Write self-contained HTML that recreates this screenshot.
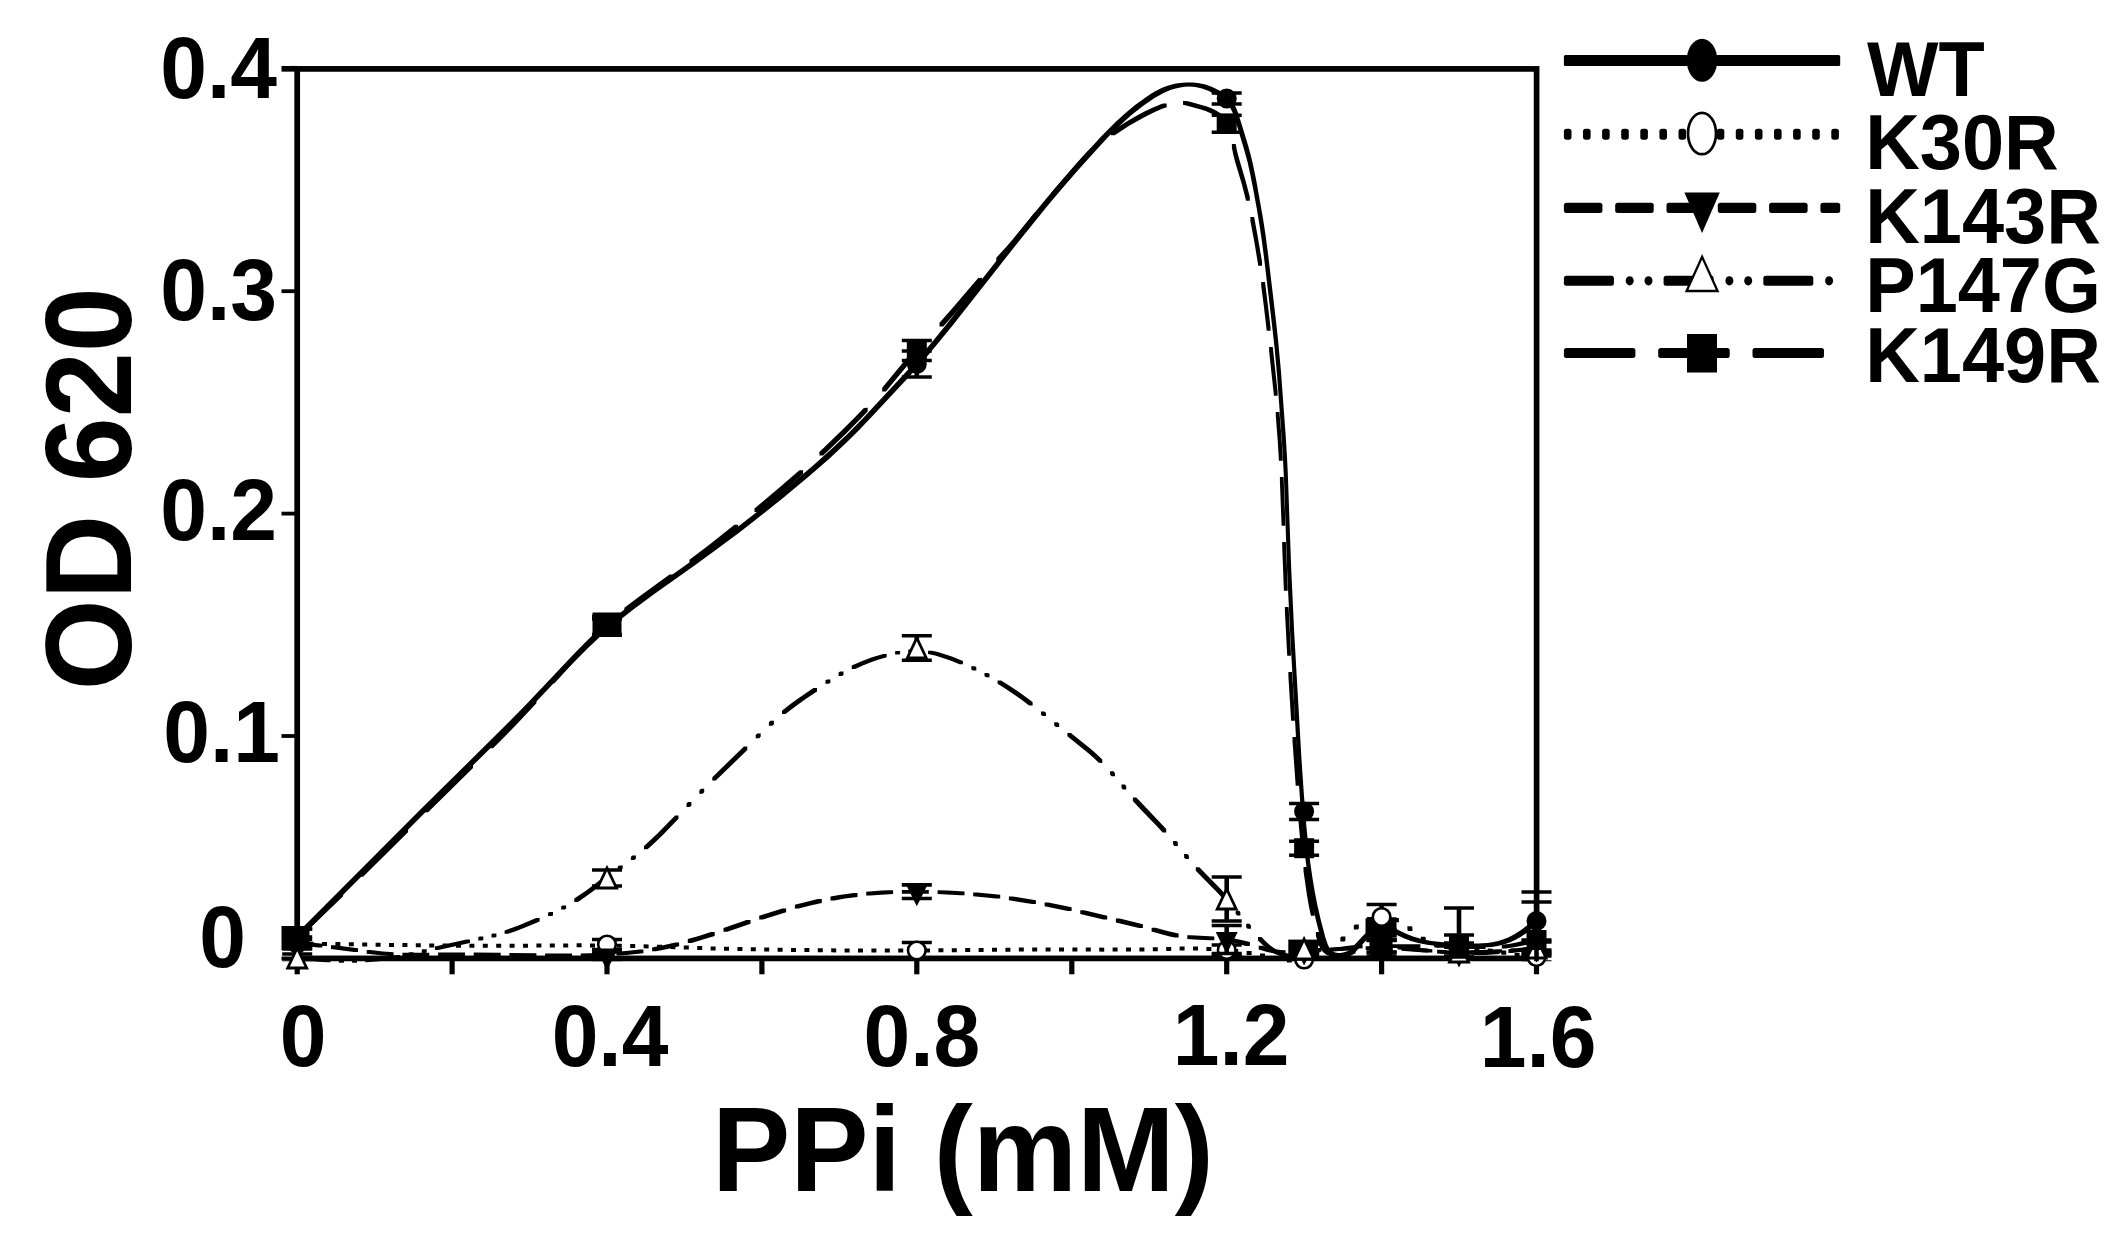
<!DOCTYPE html>
<html><head><meta charset="utf-8"><title>PPi OD 620</title>
<style>html,body{margin:0;padding:0;background:#fff}svg{display:block;filter:blur(0.7px)}text{font-family:"Liberation Sans",sans-serif;font-weight:bold;fill:#000}</style></head><body>
<svg width="2126" height="1238" viewBox="0 0 2126 1238">
<rect width="2126" height="1238" fill="#fff"/>
<g stroke="#000" fill="none">
<rect x="297.2" y="68.9" width="1239.4" height="889.5" stroke-width="5.7"/>
<line x1="281.5" y1="68.8" x2="297" y2="68.8" stroke-width="5.7"/>
<line x1="281.5" y1="291.2" x2="297" y2="291.2" stroke-width="3.8"/>
<line x1="281.5" y1="513.6" x2="297" y2="513.6" stroke-width="3.8"/>
<line x1="281.5" y1="736.0" x2="297" y2="736.0" stroke-width="3.8"/>
<line x1="281.5" y1="958.4" x2="297" y2="958.4" stroke-width="3.8"/>
<line x1="297.2" y1="958" x2="297.2" y2="974.3" stroke-width="5.2"/>
<line x1="452.1" y1="958" x2="452.1" y2="974.3" stroke-width="5.2"/>
<line x1="607.0" y1="958" x2="607.0" y2="974.3" stroke-width="5.2"/>
<line x1="761.9" y1="958" x2="761.9" y2="974.3" stroke-width="5.2"/>
<line x1="916.8" y1="958" x2="916.8" y2="974.3" stroke-width="5.2"/>
<line x1="1071.8" y1="958" x2="1071.8" y2="974.3" stroke-width="5.2"/>
<line x1="1226.7" y1="958" x2="1226.7" y2="974.3" stroke-width="5.2"/>
<line x1="1381.6" y1="958" x2="1381.6" y2="974.3" stroke-width="5.2"/>
<line x1="1536.5" y1="958" x2="1536.5" y2="974.3" stroke-width="5.2"/>
</g>
<clipPath id="pc"><rect x="270" y="60" width="1290" height="901.2"/></clipPath>
<g>
<path d="M295.2,939.0L299.2,939.0L299.4,938.8L426.7,811.1L507.8,731.0L530.0,708.3L560.5,676.0L573.5,662.4L588.0,648.0L600.8,636.1L609.0,629.0L616.5,622.7L634.0,609.1L654.3,594.1L695.6,564.7L716.4,549.6L738.7,533.0L757.6,518.3L782.4,498.4L809.1,476.2L829.5,458.4L845.5,443.6L858.0,431.3L871.1,417.6L909.8,375.9L926.2,357.4L939.1,342.1L952.8,325.2L1015.7,245.2L1045.5,208.3L1061.8,188.8L1077.7,170.5L1093.5,152.9L1108.2,137.1L1120.5,124.9L1131.2,115.3L1142.3,106.4L1148.7,101.9L1154.2,98.2L1162.6,93.4L1166.8,91.4L1171.1,89.7L1175.6,88.4L1180.2,87.4L1185.0,86.7L1188.9,86.5L1195.4,87.1L1202.0,88.5L1204.8,89.5L1208.8,91.1L1216.1,94.7L1221.6,98.0L1225.2,101.0L1228.2,104.5L1230.9,108.9L1233.2,114.1L1235.3,120.3L1244.1,149.5L1247.6,162.3L1250.3,174.5L1252.9,187.4L1256.8,208.8L1259.8,227.1L1261.7,239.8L1264.0,257.2L1271.9,324.1L1274.5,347.2L1277.0,374.5L1281.7,438.5L1282.9,457.3L1284.0,479.6L1287.2,572.6L1290.3,636.3L1297.1,757.0L1299.8,796.6L1302.3,828.8L1304.3,849.5L1306.3,866.1L1308.3,880.4L1310.6,894.7L1313.5,909.6L1316.6,922.9L1321.6,941.8L1323.7,947.9L1325.6,951.6L1327.3,953.9L1329.6,955.9L1331.2,956.8L1334.1,958.0L1337.3,958.5L1342.9,958.5L1345.9,958.1L1347.7,957.5L1350.2,956.2L1353.9,953.4L1357.3,950.0L1365.8,940.7L1369.4,937.3L1372.0,935.1L1374.6,933.2L1377.3,931.7L1379.9,930.6L1382.7,930.0L1386.1,930.7L1390.4,932.1L1404.4,938.5L1410.9,941.0L1418.4,943.1L1427.1,944.8L1433.4,945.6L1441.2,946.2L1466.8,947.4L1481.9,947.5L1491.4,946.9L1497.6,946.0L1503.8,944.4L1509.6,942.4L1515.6,939.7L1520.9,936.7L1525.7,933.4L1531.4,929.0L1538.5,923.0L1538.5,919.0L1534.6,919.0L1527.2,925.3L1521.1,930.0L1514.4,934.3L1508.8,937.2L1504.2,939.1L1498.3,941.0L1493.6,942.1L1487.5,943.0L1478.0,943.6L1469.1,943.4L1443.6,942.2L1435.8,941.5L1429.8,940.7L1421.4,939.0L1413.1,936.5L1406.7,933.9L1396.1,929.0L1391.0,927.1L1387.0,926.2L1380.3,926.0L1377.4,926.4L1374.4,927.3L1371.8,928.6L1368.2,931.0L1365.4,933.4L1362.3,936.4L1353.5,946.1L1350.1,949.4L1346.2,952.4L1343.4,953.7L1340.5,954.5L1339.7,954.4L1336.5,953.5L1333.6,952.1L1332.2,950.9L1330.3,948.9L1328.6,946.2L1327.6,944.1L1325.5,937.9L1320.8,920.1L1317.5,905.7L1314.9,892.5L1312.5,878.2L1310.3,863.0L1308.3,845.7L1306.4,826.7L1303.9,794.8L1301.5,759.5L1294.2,632.4L1291.2,568.7L1287.9,475.8L1286.8,453.4L1285.6,434.6L1280.9,370.6L1278.1,340.5L1275.5,316.8L1267.7,251.3L1265.2,232.8L1262.7,216.7L1255.9,178.6L1253.1,165.3L1250.9,155.8L1248.1,145.6L1238.7,114.8L1236.6,108.9L1233.8,103.2L1232.2,100.6L1230.4,98.4L1228.8,96.7L1226.7,95.0L1224.2,93.2L1220.4,91.0L1211.7,86.7L1205.5,84.5L1199.3,83.2L1193.0,82.6L1185.9,82.6L1182.6,82.7L1177.9,83.2L1174.7,83.8L1170.2,84.9L1166.9,85.9L1162.8,87.5L1155.6,91.1L1151.0,93.8L1145.9,97.2L1135.4,104.8L1125.5,112.9L1115.3,122.2L1102.1,135.5L1085.3,153.7L1066.7,174.7L1047.6,197.1L1031.9,216.1L1015.8,236.2L946.1,324.7L933.3,340.5L922.0,353.9L910.5,367.0L899.4,379.0L864.1,417.0L848.7,432.8L831.5,449.1L812.5,466.0L785.9,488.5L758.8,510.4L737.6,526.9L716.0,543.1L692.9,559.9L648.9,591.3L628.6,606.2L610.8,620.3L602.8,627.0L595.0,633.9L582.8,645.4L569.0,659.2L526.1,704.4L503.9,727.1L421.4,808.6L295.2,935.0Z" fill="#000"/>
<g stroke="#000" fill="none" clip-path="url(#pc)">
<line x1="297.2" y1="929.0" x2="297.2" y2="945.0" stroke-width="4.6"/><line x1="282.2" y1="929.0" x2="312.2" y2="929.0" stroke-width="3.6"/><line x1="282.2" y1="945.0" x2="312.2" y2="945.0" stroke-width="3.6"/>
<line x1="607.0" y1="619.0" x2="607.0" y2="635.0" stroke-width="4.6"/><line x1="592.0" y1="619.0" x2="622.0" y2="619.0" stroke-width="3.6"/><line x1="592.0" y1="635.0" x2="622.0" y2="635.0" stroke-width="3.6"/>
<line x1="916.8" y1="351.0" x2="916.8" y2="377.0" stroke-width="4.6"/><line x1="901.8" y1="351.0" x2="931.8" y2="351.0" stroke-width="3.6"/><line x1="901.8" y1="377.0" x2="931.8" y2="377.0" stroke-width="3.6"/>
<line x1="1226.7" y1="93.0" x2="1226.7" y2="104.0" stroke-width="4.6"/><line x1="1211.7" y1="93.0" x2="1241.7" y2="93.0" stroke-width="3.6"/><line x1="1211.7" y1="104.0" x2="1241.7" y2="104.0" stroke-width="3.6"/>
<line x1="1304.1" y1="803.5" x2="1304.1" y2="819.5" stroke-width="4.6"/><line x1="1289.1" y1="803.5" x2="1319.1" y2="803.5" stroke-width="3.6"/><line x1="1289.1" y1="819.5" x2="1319.1" y2="819.5" stroke-width="3.6"/>
<line x1="1381.6" y1="919.0" x2="1381.6" y2="936.0" stroke-width="4.6"/><line x1="1366.6" y1="919.0" x2="1396.6" y2="919.0" stroke-width="3.6"/><line x1="1366.6" y1="936.0" x2="1396.6" y2="936.0" stroke-width="3.6"/>
<line x1="1459.0" y1="908.0" x2="1459.0" y2="982.0" stroke-width="4.6"/><line x1="1444.0" y1="908.0" x2="1474.0" y2="908.0" stroke-width="3.6"/><line x1="1444.0" y1="982.0" x2="1474.0" y2="982.0" stroke-width="3.6"/>
<line x1="1536.5" y1="892.0" x2="1536.5" y2="950.0" stroke-width="4.6"/><line x1="1521.5" y1="892.0" x2="1551.5" y2="892.0" stroke-width="3.6"/><line x1="1521.5" y1="950.0" x2="1551.5" y2="950.0" stroke-width="3.6"/>
</g>
<rect x="1365.5" y="918.5" width="31.0" height="18.3" fill="#000"/>
<circle cx="297.2" cy="937.0" r="10" fill="#000"/>
<circle cx="607.0" cy="627.0" r="10" fill="#000"/>
<circle cx="916.8" cy="364.0" r="10" fill="#000"/>
<circle cx="1226.7" cy="98.5" r="10" fill="#000"/>
<circle cx="1304.1" cy="811.5" r="10" fill="#000"/>
<circle cx="1381.6" cy="927.5" r="10" fill="#000"/>
<circle cx="1459.0" cy="945.0" r="10" fill="#000"/>
<circle cx="1536.5" cy="921.0" r="10" fill="#000"/>
</g>
<g>
<path d="M295.2,945.5L300.2,945.5L300.2,941.5L295.2,941.5Z M308.6,945.7L313.6,945.7L313.6,941.7L308.6,941.7Z M322.0,945.9L327.0,945.9L327.0,941.9L322.0,941.9Z M335.4,946.1L340.4,946.1L340.4,942.1L335.4,942.1Z M348.8,946.3L353.8,946.3L353.8,942.3L348.8,942.3Z M362.2,946.5L367.2,946.5L367.2,942.5L362.2,942.5Z M375.6,946.7L380.6,946.7L380.6,942.7L375.6,942.7Z M389.0,946.9L394.0,946.9L394.0,942.9L389.0,942.9Z M402.4,947.1L407.4,947.1L407.4,943.1L402.4,943.1Z M415.8,947.2L420.8,947.3L420.8,943.3L415.8,943.2Z M429.2,947.4L434.2,947.4L434.2,943.4L429.2,943.4Z M442.6,947.6L447.6,947.6L447.6,943.6L442.6,943.6Z M456.0,947.7L461.0,947.7L461.0,943.7L456.0,943.7Z M469.4,947.8L474.4,947.8L474.4,943.8L469.4,943.8Z M482.8,947.8L487.8,947.8L487.8,943.8L482.8,943.8Z M496.2,947.8L501.2,947.8L501.2,943.8L496.2,943.8Z M509.6,947.8L514.6,947.7L514.6,943.7L509.6,943.8Z M523.0,947.7L528.0,947.7L528.0,943.7L523.0,943.7Z M536.4,947.6L541.4,947.6L541.4,943.6L536.4,943.6Z M549.8,947.5L554.8,947.5L554.8,943.5L549.8,943.5Z M563.2,947.4L568.2,947.4L568.2,943.4L563.2,943.4Z M576.6,947.3L581.6,947.3L581.6,943.3L576.6,943.3Z M590.0,947.4L595.0,947.4L595.0,943.4L590.0,943.4Z M603.4,947.5L608.4,947.5L608.4,943.5L603.4,943.5Z M616.8,947.7L621.8,947.7L621.8,943.7L616.8,943.7Z M630.2,948.0L635.2,948.0L635.2,944.0L630.2,944.0Z M643.6,948.3L648.6,948.4L648.6,944.4L643.6,944.3Z M657.0,948.7L662.0,948.8L662.0,944.8L657.0,944.7Z M670.4,949.1L675.4,949.2L675.4,945.2L670.4,945.1Z M683.8,949.6L688.8,949.6L688.8,945.6L683.8,945.6Z M697.2,950.0L702.2,950.0L702.2,946.0L697.2,946.0Z M710.6,950.4L715.6,950.4L715.6,946.4L710.6,946.4Z M724.0,950.7L729.0,950.7L729.0,946.7L724.0,946.7Z M737.4,951.0L742.4,951.0L742.4,947.0L737.4,947.0Z M750.8,951.3L755.8,951.3L755.8,947.3L750.8,947.3Z M764.2,951.5L769.2,951.5L769.2,947.5L764.2,947.5Z M777.6,951.7L782.6,951.7L782.6,947.7L777.6,947.7Z M791.0,951.9L796.0,951.9L796.0,947.9L791.0,947.9Z M804.4,952.1L809.4,952.1L809.4,948.1L804.4,948.1Z M817.8,952.2L822.8,952.2L822.8,948.2L817.8,948.2Z M831.2,952.3L836.2,952.4L836.2,948.4L831.2,948.3Z M844.6,952.4L849.6,952.4L849.6,948.4L844.6,948.4Z M858.0,952.5L863.0,952.5L863.0,948.5L858.0,948.5Z M871.4,952.6L876.4,952.6L876.4,948.6L871.4,948.6Z M884.8,952.6L889.8,952.6L889.8,948.6L884.8,948.6Z M898.2,952.6L903.2,952.6L903.2,948.6L898.2,948.6Z M911.6,952.5L916.6,952.5L916.6,948.5L911.6,948.5Z M925.0,952.4L930.0,952.4L930.0,948.4L925.0,948.4Z M938.4,952.3L943.4,952.3L943.4,948.3L938.4,948.3Z M951.8,952.2L956.8,952.2L956.8,948.2L951.8,948.2Z M965.2,952.1L970.2,952.1L970.2,948.1L965.2,948.1Z M978.6,951.9L983.6,951.9L983.6,947.9L978.6,947.9Z M992.0,951.8L997.0,951.8L997.0,947.8L992.0,947.8Z M1005.4,951.7L1010.4,951.7L1010.4,947.7L1005.4,947.7Z M1018.8,951.6L1023.8,951.6L1023.8,947.6L1018.8,947.6Z M1032.2,951.5L1037.2,951.5L1037.2,947.5L1032.2,947.5Z M1045.6,951.5L1050.6,951.5L1050.6,947.5L1045.6,947.5Z M1059.0,951.5L1064.0,951.5L1064.0,947.5L1059.0,947.5Z M1072.4,951.6L1077.4,951.6L1077.4,947.6L1072.4,947.6Z M1085.8,951.6L1090.8,951.6L1090.8,947.6L1085.8,947.6Z M1099.2,951.6L1104.2,951.7L1104.2,947.7L1099.2,947.6Z M1112.6,951.6L1117.6,951.6L1117.6,947.6L1112.6,947.6Z M1126.0,951.6L1131.0,951.6L1131.0,947.6L1126.0,947.6Z M1139.4,951.4L1144.4,951.4L1144.4,947.4L1139.4,947.4Z M1152.8,951.2L1157.8,951.2L1157.8,947.2L1152.8,947.2Z M1166.2,950.9L1171.2,950.9L1171.2,946.9L1166.2,946.9Z M1179.6,950.6L1184.6,950.6L1184.6,946.6L1179.6,946.6Z M1193.0,950.6L1198.0,950.6L1198.0,946.6L1193.0,946.6Z M1206.4,950.9L1211.4,950.9L1211.4,946.9L1206.4,946.9Z M1219.8,951.6L1224.8,951.7L1224.8,947.7L1219.8,947.6Z M1233.2,952.9L1238.2,953.1L1238.2,949.1L1233.2,948.9Z M1246.6,954.9L1247.6,955.0L1251.6,955.0L1251.6,951.0L1250.6,950.9L1246.6,950.9Z M1260.0,957.4L1261.0,957.6L1265.0,957.6L1265.0,953.6L1264.0,953.4L1260.0,953.4Z M1273.4,960.2L1274.4,960.4L1278.4,960.4L1278.4,956.4L1277.4,956.2L1273.4,956.2Z M1286.8,962.4L1291.8,962.5L1291.8,958.5L1286.8,958.4Z M1300.2,962.6L1305.2,962.5L1305.2,958.5L1300.2,958.6Z M1313.6,959.5L1317.6,959.5L1318.6,959.1L1318.6,955.1L1314.6,955.1L1313.6,955.5Z M1327.0,952.7L1331.0,952.7L1332.0,952.0L1332.0,948.0L1328.0,948.0L1327.0,948.7Z M1340.4,941.4L1344.4,941.4L1345.4,940.5L1345.4,936.5L1341.4,936.5L1340.4,937.4Z M1353.8,929.4L1357.8,929.4L1358.8,928.6L1358.8,924.6L1354.8,924.6L1353.8,925.4Z M1367.2,921.3L1371.2,921.3L1372.2,920.9L1372.2,916.9L1368.2,916.9L1367.2,917.3Z M1380.6,918.5L1385.6,918.6L1385.6,914.6L1380.6,914.5Z M1394.0,921.9L1395.0,922.3L1399.0,922.3L1399.0,918.3L1398.0,917.9L1394.0,917.9Z M1407.4,930.3L1408.4,931.0L1412.4,931.0L1412.4,927.0L1411.4,926.3L1407.4,926.3Z M1420.8,940.8L1421.8,941.5L1425.8,941.5L1425.8,937.5L1424.8,936.8L1420.8,936.8Z M1434.2,947.2L1435.1,947.5L1439.1,947.5L1439.1,943.4L1438.2,943.2L1434.2,943.2Z M1447.6,949.4L1452.6,949.5L1452.6,945.5L1447.6,945.4Z M1461.0,950.3L1466.0,950.3L1466.0,946.3L1461.0,946.3Z M1474.4,951.3L1479.4,951.4L1479.4,947.4L1474.4,947.3Z M1487.8,952.6L1492.8,952.8L1492.8,948.8L1487.8,948.6Z M1501.2,954.5L1502.2,954.7L1506.2,954.7L1506.2,950.7L1505.2,950.5L1501.2,950.5Z M1514.6,956.9L1515.6,957.1L1519.6,957.1L1519.6,953.1L1518.6,952.9L1514.6,952.9Z M1528.0,959.6L1529.0,959.8L1533.0,959.8L1533.0,955.8L1532.0,955.6L1528.0,955.6Z" fill="#000"/>
<g stroke="#000" fill="none" clip-path="url(#pc)">
<line x1="297.2" y1="939.5" x2="297.2" y2="947.5" stroke-width="4.6"/><line x1="282.2" y1="939.5" x2="312.2" y2="939.5" stroke-width="3.6"/><line x1="282.2" y1="947.5" x2="312.2" y2="947.5" stroke-width="3.6"/>
<line x1="607.0" y1="939.5" x2="607.0" y2="949.5" stroke-width="4.6"/><line x1="592.0" y1="939.5" x2="622.0" y2="939.5" stroke-width="3.6"/><line x1="592.0" y1="949.5" x2="622.0" y2="949.5" stroke-width="3.6"/>
<line x1="916.8" y1="942.5" x2="916.8" y2="958.5" stroke-width="4.6"/><line x1="901.8" y1="942.5" x2="931.8" y2="942.5" stroke-width="3.6"/><line x1="901.8" y1="958.5" x2="931.8" y2="958.5" stroke-width="3.6"/>
<line x1="1226.7" y1="945.0" x2="1226.7" y2="955.0" stroke-width="4.6"/><line x1="1211.7" y1="945.0" x2="1241.7" y2="945.0" stroke-width="3.6"/><line x1="1211.7" y1="955.0" x2="1241.7" y2="955.0" stroke-width="3.6"/>
<line x1="1304.1" y1="955.5" x2="1304.1" y2="963.5" stroke-width="4.6"/><line x1="1289.1" y1="955.5" x2="1319.1" y2="955.5" stroke-width="3.6"/><line x1="1289.1" y1="963.5" x2="1319.1" y2="963.5" stroke-width="3.6"/>
<line x1="1381.6" y1="904.5" x2="1381.6" y2="929.5" stroke-width="4.6"/><line x1="1366.6" y1="904.5" x2="1396.6" y2="904.5" stroke-width="3.6"/><line x1="1366.6" y1="929.5" x2="1396.6" y2="929.5" stroke-width="3.6"/>
<line x1="1459.0" y1="943.0" x2="1459.0" y2="953.0" stroke-width="4.6"/><line x1="1444.0" y1="943.0" x2="1474.0" y2="943.0" stroke-width="3.6"/><line x1="1444.0" y1="953.0" x2="1474.0" y2="953.0" stroke-width="3.6"/>
<line x1="1536.5" y1="952.0" x2="1536.5" y2="962.0" stroke-width="4.6"/><line x1="1521.5" y1="952.0" x2="1551.5" y2="952.0" stroke-width="3.6"/><line x1="1521.5" y1="962.0" x2="1551.5" y2="962.0" stroke-width="3.6"/>
</g>
<circle cx="297.2" cy="943.5" r="8.8" fill="#fff" stroke="#000" stroke-width="2.6"/>
<circle cx="607.0" cy="944.5" r="8.8" fill="#fff" stroke="#000" stroke-width="2.6"/>
<circle cx="916.8" cy="950.5" r="8.8" fill="#fff" stroke="#000" stroke-width="2.6"/>
<circle cx="1226.7" cy="950.0" r="8.8" fill="#fff" stroke="#000" stroke-width="2.6"/>
<circle cx="1304.1" cy="959.5" r="8.8" fill="#fff" stroke="#000" stroke-width="2.6"/>
<circle cx="1381.6" cy="917.0" r="8.8" fill="#fff" stroke="#000" stroke-width="2.6"/>
<circle cx="1459.0" cy="948.0" r="8.8" fill="#fff" stroke="#000" stroke-width="2.6"/>
<circle cx="1536.5" cy="957.0" r="8.8" fill="#fff" stroke="#000" stroke-width="2.6"/>
</g>
<g>
<path d="M295.3,944.9L318.5,947.5L322.3,947.5L322.3,943.7L299.1,941.1L295.3,941.1Z M331.0,949.0L354.1,952.1L358.0,952.1L358.0,948.3L334.8,945.2L331.0,945.2Z M366.7,953.8L383.3,955.5L389.8,956.0L393.6,956.0L393.6,952.2L383.0,951.4L370.5,950.0L366.7,950.0Z M402.4,956.5L429.3,956.6L429.3,952.8L402.4,952.7Z M438.1,956.4L465.0,956.3L465.0,952.5L438.1,952.6Z M473.7,956.3L500.7,956.6L500.7,952.8L473.7,952.5Z M509.4,956.8L536.4,957.1L536.4,953.3L509.4,953.0Z M545.1,957.3L572.1,957.4L572.1,953.6L545.1,953.5Z M580.8,957.3L593.0,957.1L607.8,956.5L607.8,952.7L580.8,953.5Z M616.5,955.6L620.3,955.6L626.5,955.1L643.4,953.2L643.4,949.4L639.6,949.4L628.5,950.7L616.5,951.8Z M652.1,951.2L655.9,951.2L657.4,950.9L667.5,948.9L679.1,946.2L679.1,942.4L675.3,942.4L663.2,945.2L652.1,947.4Z M687.8,942.9L691.6,942.9L702.9,939.6L714.7,935.9L714.7,932.1L710.9,932.1L698.8,935.9L687.8,939.1Z M723.5,931.7L727.3,931.7L750.5,923.8L750.5,920.0L746.6,920.0L723.5,927.9Z M759.2,919.5L763.0,919.5L786.1,912.2L786.1,908.4L782.3,908.4L759.2,915.7Z M794.9,908.6L798.7,908.6L810.3,905.6L821.8,902.9L821.8,899.1L817.9,899.1L806.0,901.9L794.9,904.8Z M830.5,900.4L834.3,900.4L845.0,898.6L857.5,896.9L857.5,893.1L853.7,893.1L850.1,893.6L839.3,895.1L830.5,896.6Z M866.2,895.6L870.0,895.6L881.4,894.7L893.1,894.0L893.1,890.2L889.3,890.2L881.8,890.6L866.2,891.8Z M901.9,893.7L928.8,893.7L928.8,889.9L901.9,889.9Z M937.6,894.1L960.7,895.3L964.5,895.3L964.5,891.5L947.5,890.6L937.6,890.3Z M973.2,896.3L996.3,898.6L1000.2,898.6L1000.2,894.8L980.0,892.7L977.0,892.5L973.2,892.5Z M1008.9,900.3L1032.1,904.0L1035.9,904.0L1035.9,900.2L1012.7,896.5L1008.9,896.5Z M1044.6,906.3L1067.8,911.1L1071.6,911.1L1071.6,907.3L1048.4,902.5L1044.6,902.5Z M1080.3,914.0L1103.4,919.5L1107.2,919.5L1107.2,915.7L1084.1,910.2L1080.3,910.2Z M1115.9,922.4L1139.1,928.0L1142.9,928.0L1142.9,924.2L1119.7,918.6L1115.9,918.6Z M1151.6,931.6L1161.4,934.3L1169.8,936.4L1174.8,937.4L1178.6,937.4L1178.6,933.6L1168.4,931.3L1155.4,927.8L1151.6,927.8Z M1187.3,939.0L1198.5,939.7L1210.5,940.2L1214.3,940.2L1214.3,936.4L1191.1,935.2L1187.3,935.2Z M1223.0,941.2L1228.5,942.0L1234.3,943.0L1246.1,945.9L1249.9,945.9L1249.9,942.1L1241.4,939.9L1233.9,938.4L1226.8,937.4L1223.0,937.4Z M1258.7,949.6L1267.1,952.0L1273.3,953.3L1279.0,954.0L1285.6,954.1L1285.6,950.3L1280.3,949.9L1275.4,949.2L1269.7,947.9L1262.5,945.8L1258.7,945.8Z M1294.4,953.5L1298.2,953.5L1309.6,952.5L1321.4,951.8L1321.4,948.0L1317.5,948.0L1310.8,948.4L1294.4,949.7Z M1330.0,951.2L1333.8,951.2L1357.0,950.3L1357.0,946.5L1353.2,946.5L1330.0,947.4Z M1365.7,950.0L1377.6,949.9L1392.7,950.1L1392.7,946.3L1381.4,946.1L1365.7,946.2Z M1401.4,950.7L1424.5,952.5L1428.4,952.5L1428.4,948.7L1409.1,947.1L1401.4,946.9Z M1437.1,953.6L1452.8,954.7L1464.1,955.0L1464.1,951.2L1453.3,950.7L1440.9,949.8L1437.1,949.8Z M1472.8,955.1L1485.9,954.9L1499.7,954.1L1499.7,950.3L1495.9,950.3L1483.8,951.0L1472.8,951.3Z M1508.4,953.0L1512.2,953.0L1535.4,950.3L1535.4,946.5L1531.6,946.5L1508.4,949.2Z" fill="#000"/>
<g stroke="#000" fill="none" clip-path="url(#pc)">
<line x1="297.2" y1="937.0" x2="297.2" y2="949.0" stroke-width="4.6"/><line x1="282.2" y1="937.0" x2="312.2" y2="937.0" stroke-width="3.6"/><line x1="282.2" y1="949.0" x2="312.2" y2="949.0" stroke-width="3.6"/>
<line x1="607.0" y1="952.0" x2="607.0" y2="960.0" stroke-width="4.6"/><line x1="592.0" y1="952.0" x2="622.0" y2="952.0" stroke-width="3.6"/><line x1="592.0" y1="960.0" x2="622.0" y2="960.0" stroke-width="3.6"/>
<line x1="916.8" y1="884.9" x2="916.8" y2="898.5" stroke-width="4.6"/><line x1="901.8" y1="884.9" x2="931.8" y2="884.9" stroke-width="3.6"/><line x1="901.8" y1="898.5" x2="931.8" y2="898.5" stroke-width="3.6"/>
<line x1="1226.7" y1="925.5" x2="1226.7" y2="953.5" stroke-width="4.6"/><line x1="1211.7" y1="925.5" x2="1241.7" y2="925.5" stroke-width="3.6"/><line x1="1211.7" y1="953.5" x2="1241.7" y2="953.5" stroke-width="3.6"/>
<line x1="1304.1" y1="943.0" x2="1304.1" y2="959.0" stroke-width="4.6"/><line x1="1289.1" y1="943.0" x2="1319.1" y2="943.0" stroke-width="3.6"/><line x1="1289.1" y1="959.0" x2="1319.1" y2="959.0" stroke-width="3.6"/>
<line x1="1381.6" y1="940.0" x2="1381.6" y2="956.0" stroke-width="4.6"/><line x1="1366.6" y1="940.0" x2="1396.6" y2="940.0" stroke-width="3.6"/><line x1="1366.6" y1="956.0" x2="1396.6" y2="956.0" stroke-width="3.6"/>
<line x1="1459.0" y1="947.0" x2="1459.0" y2="959.0" stroke-width="4.6"/><line x1="1444.0" y1="947.0" x2="1474.0" y2="947.0" stroke-width="3.6"/><line x1="1444.0" y1="959.0" x2="1474.0" y2="959.0" stroke-width="3.6"/>
<line x1="1536.5" y1="940.0" x2="1536.5" y2="956.0" stroke-width="4.6"/><line x1="1521.5" y1="940.0" x2="1551.5" y2="940.0" stroke-width="3.6"/><line x1="1521.5" y1="956.0" x2="1551.5" y2="956.0" stroke-width="3.6"/>
</g>
<rect x="1288.3" y="939.6" width="29.8" height="16.7" fill="#000"/>
<path d="M286.2,935.5 L308.2,935.5 L297.2,957.5 Z" fill="#000"/>
<path d="M596.0,948.5 L618.0,948.5 L607.0,970.5 Z" fill="#000"/>
<path d="M905.8,884.2 L927.8,884.2 L916.8,906.2 Z" fill="#000"/>
<path d="M1215.7,932.0 L1237.7,932.0 L1226.7,954.0 Z" fill="#000"/>
<path d="M1293.1,943.5 L1315.1,943.5 L1304.1,965.5 Z" fill="#000"/>
<path d="M1370.6,940.5 L1392.6,940.5 L1381.6,962.5 Z" fill="#000"/>
<path d="M1448.0,945.5 L1470.0,945.5 L1459.0,967.5 Z" fill="#000"/>
<path d="M1525.5,940.5 L1547.5,940.5 L1536.5,962.5 Z" fill="#000"/>
</g>
<g>
<path d="M295.5,959.7L318.8,961.7L327.1,962.2L330.5,962.2L330.5,958.8L318.2,958.0L298.9,956.3L295.5,956.3Z M338.9,962.7L343.9,962.7L343.9,959.3L338.9,959.3Z M352.1,962.7L357.0,962.7L357.0,959.3L352.1,959.3Z M365.2,962.2L369.8,962.1L381.4,961.1L390.3,959.9L400.2,958.3L400.2,954.9L396.8,954.9L380.9,957.3L365.2,958.8Z M408.6,955.9L412.0,955.9L413.6,955.6L413.6,952.2L410.2,952.2L408.6,952.5Z M421.8,952.9L425.2,952.9L426.7,952.6L426.7,949.2L423.3,949.2L421.8,949.5Z M434.9,949.9L438.3,949.9L469.9,942.9L469.9,939.5L466.4,939.5L434.9,946.5Z M478.3,940.4L481.7,940.4L483.3,940.0L483.3,936.6L479.9,936.6L478.3,937.0Z M491.5,937.4L494.9,937.4L496.4,937.0L496.4,933.6L493.0,933.6L491.5,934.0Z M504.6,933.8L508.0,933.8L515.0,931.4L526.4,927.1L539.6,921.5L539.6,918.1L536.1,918.1L519.0,925.3L511.5,928.1L504.6,930.4Z M548.0,916.1L551.4,916.1L553.0,915.4L553.0,912.0L549.6,912.0L548.0,912.7Z M561.2,909.6L564.6,909.6L566.1,908.8L566.1,905.4L562.7,905.4L561.2,906.2Z M574.3,902.0L577.7,902.0L580.2,900.4L591.4,892.5L609.3,878.9L609.3,875.5L605.8,875.5L586.3,890.4L574.3,898.6Z M617.7,870.0L621.1,870.0L622.7,868.8L622.7,865.4L619.3,865.4L617.7,866.6Z M630.9,860.1L634.3,860.1L635.9,858.8L635.9,855.4L632.5,855.4L630.9,856.7Z M644.0,849.3L647.4,849.3L649.6,847.4L656.1,841.5L662.8,834.9L678.5,818.8L678.5,815.4L675.1,815.4L657.5,833.4L650.5,840.1L644.0,845.9Z M686.5,806.9L689.9,806.9L691.4,805.4L691.4,802.0L688.0,802.0L686.5,803.5Z M699.3,793.8L702.7,793.8L704.2,792.2L704.2,788.8L700.8,788.8L699.3,790.4Z M712.3,780.6L715.8,780.6L747.3,750.0L747.3,746.5L743.9,746.5L712.3,777.2Z M755.7,738.3L759.1,738.3L760.7,736.8L760.7,733.4L757.3,733.4L755.7,734.9Z M768.9,725.7L772.3,725.7L773.9,724.2L773.9,720.8L770.5,720.8L768.9,722.3Z M782.0,714.1L785.5,714.1L791.7,709.2L799.4,703.4L807.5,697.7L817.0,691.4L817.0,688.0L813.4,688.1L796.3,699.7L788.8,705.3L782.0,710.7Z M825.4,683.8L828.8,683.8L830.4,682.8L830.4,679.4L827.0,679.4L825.4,680.4Z M838.6,675.9L842.0,675.9L843.5,675.0L843.5,671.6L840.1,671.6L838.6,672.5Z M851.7,669.0L855.1,669.0L862.8,665.5L870.9,662.3L878.8,659.6L886.7,657.3L886.7,653.9L883.3,653.9L872.1,657.3L861.6,661.2L851.7,665.6Z M895.1,654.6L898.5,654.6L900.1,654.3L900.1,650.9L896.7,650.9L895.1,651.2Z M908.3,652.8L913.3,652.8L913.3,649.4L908.3,649.4Z M916.2,652.7L919.8,652.7L919.8,649.3L916.2,649.3Z M928.0,654.1L935.1,655.6L942.8,657.9L951.1,660.8L959.5,664.2L962.9,664.3L962.9,660.9L951.8,656.4L942.5,653.4L936.9,651.8L931.9,650.8L928.0,650.7Z M971.3,669.6L972.9,670.4L976.3,670.4L976.3,667.0L974.7,666.2L971.3,666.2Z M984.5,676.3L986.1,677.2L989.5,677.2L989.5,673.8L987.9,672.9L984.5,672.9Z M997.6,683.8L1005.5,688.8L1013.7,694.2L1021.6,699.8L1029.1,705.4L1032.6,705.5L1032.6,702.1L1018.9,692.0L1010.6,686.4L1003.5,682.0L1001.0,680.4L997.6,680.4Z M1041.0,714.9L1042.6,716.1L1046.0,716.1L1046.0,712.7L1044.4,711.5L1041.0,711.5Z M1054.2,725.6L1055.8,726.9L1059.2,726.9L1059.2,723.5L1057.6,722.2L1054.2,722.2Z M1067.4,736.3L1086.9,752.0L1093.6,757.8L1098.8,762.8L1102.3,762.9L1102.3,759.5L1096.5,753.9L1090.2,748.5L1070.9,733.0L1067.4,732.9Z M1110.1,774.7L1111.5,776.3L1114.9,776.3L1114.9,772.9L1113.5,771.3L1110.1,771.3Z M1121.5,787.9L1122.8,789.4L1126.2,789.4L1126.2,786.0L1124.9,784.5L1121.5,784.5Z M1132.9,801.0L1140.7,809.4L1156.2,825.4L1162.7,832.5L1166.2,832.5L1166.2,829.1L1136.4,797.6L1132.9,797.6Z M1173.1,844.4L1174.4,846.0L1177.8,846.0L1177.8,842.5L1176.5,841.0L1173.1,841.0Z M1184.1,857.5L1185.5,859.1L1188.9,859.1L1188.9,855.7L1187.5,854.1L1184.1,854.1Z M1195.8,870.7L1217.2,892.4L1226.2,902.2L1229.6,902.2L1229.6,898.8L1220.7,889.0L1199.3,867.3L1195.8,867.3Z M1235.7,914.1L1237.0,915.6L1240.4,915.6L1240.4,912.2L1239.1,910.7L1235.7,910.7Z M1246.2,927.2L1247.5,928.8L1250.9,928.8L1250.9,925.4L1249.6,923.8L1246.2,923.8Z M1258.0,940.4L1262.7,945.1L1266.9,948.8L1270.6,951.6L1274.5,953.8L1278.8,955.6L1283.0,956.6L1286.9,957.1L1292.9,957.2L1292.9,953.8L1289.3,953.7L1285.4,953.0L1281.7,952.0L1278.1,950.5L1274.6,948.6L1270.7,945.7L1266.3,941.9L1261.4,937.0L1258.0,937.0Z M1301.4,955.7L1304.8,955.7L1306.3,955.4L1306.3,952.0L1302.9,952.0L1301.4,952.3Z M1314.5,953.6L1317.9,953.6L1319.4,953.4L1319.4,950.0L1316.0,950.0L1314.5,950.2Z M1327.7,951.8L1331.1,951.8L1349.1,949.5L1362.6,948.2L1362.6,944.8L1359.2,944.8L1350.5,945.5L1327.7,948.4Z M1371.0,947.6L1376.0,947.6L1376.0,944.2L1371.0,944.2Z M1384.2,947.9L1389.1,948.0L1389.1,944.6L1384.2,944.5Z M1397.4,949.2L1420.3,951.9L1428.9,952.6L1432.3,952.6L1432.3,949.2L1419.8,948.1L1400.8,945.8L1397.4,945.8Z M1440.8,953.3L1445.7,953.4L1445.7,950.0L1440.8,949.9Z M1453.9,953.7L1458.8,953.7L1458.8,950.3L1453.9,950.3Z M1467.0,953.7L1484.8,953.5L1502.0,952.7L1502.0,949.3L1498.5,949.3L1481.4,950.1L1467.0,950.3Z M1510.4,951.9L1515.4,951.7L1515.4,948.3L1510.4,948.5Z M1523.6,950.7L1528.5,950.6L1528.5,947.2L1523.6,947.3Z" fill="#000"/>
<g stroke="#000" fill="none" clip-path="url(#pc)">
<line x1="297.2" y1="954.0" x2="297.2" y2="962.0" stroke-width="4.6"/><line x1="282.2" y1="954.0" x2="312.2" y2="954.0" stroke-width="3.6"/><line x1="282.2" y1="962.0" x2="312.2" y2="962.0" stroke-width="3.6"/>
<line x1="607.0" y1="870.0" x2="607.0" y2="886.0" stroke-width="4.6"/><line x1="592.0" y1="870.0" x2="622.0" y2="870.0" stroke-width="3.6"/><line x1="592.0" y1="886.0" x2="622.0" y2="886.0" stroke-width="3.6"/>
<line x1="916.8" y1="635.7" x2="916.8" y2="660.3" stroke-width="4.6"/><line x1="901.8" y1="635.7" x2="931.8" y2="635.7" stroke-width="3.6"/><line x1="901.8" y1="660.3" x2="931.8" y2="660.3" stroke-width="3.6"/>
<line x1="1226.7" y1="877.0" x2="1226.7" y2="921.0" stroke-width="4.6"/><line x1="1211.7" y1="877.0" x2="1241.7" y2="877.0" stroke-width="3.6"/><line x1="1211.7" y1="921.0" x2="1241.7" y2="921.0" stroke-width="3.6"/>
<line x1="1304.1" y1="944.0" x2="1304.1" y2="954.0" stroke-width="4.6"/><line x1="1289.1" y1="944.0" x2="1319.1" y2="944.0" stroke-width="3.6"/><line x1="1289.1" y1="954.0" x2="1319.1" y2="954.0" stroke-width="3.6"/>
<line x1="1381.6" y1="940.0" x2="1381.6" y2="952.0" stroke-width="4.6"/><line x1="1366.6" y1="940.0" x2="1396.6" y2="940.0" stroke-width="3.6"/><line x1="1366.6" y1="952.0" x2="1396.6" y2="952.0" stroke-width="3.6"/>
<line x1="1459.0" y1="947.0" x2="1459.0" y2="957.0" stroke-width="4.6"/><line x1="1444.0" y1="947.0" x2="1474.0" y2="947.0" stroke-width="3.6"/><line x1="1444.0" y1="957.0" x2="1474.0" y2="957.0" stroke-width="3.6"/>
<line x1="1536.5" y1="942.0" x2="1536.5" y2="954.0" stroke-width="4.6"/><line x1="1521.5" y1="942.0" x2="1551.5" y2="942.0" stroke-width="3.6"/><line x1="1521.5" y1="954.0" x2="1551.5" y2="954.0" stroke-width="3.6"/>
</g>
<path d="M287.7,968.0 L306.7,968.0 L297.2,948.0 Z" fill="#fff" stroke="#000" stroke-width="2.8" stroke-linejoin="miter"/>
<path d="M597.5,888.0 L616.5,888.0 L607.0,868.0 Z" fill="#fff" stroke="#000" stroke-width="2.8" stroke-linejoin="miter"/>
<path d="M907.3,658.0 L926.3,658.0 L916.8,638.0 Z" fill="#fff" stroke="#000" stroke-width="2.8" stroke-linejoin="miter"/>
<path d="M1217.2,909.0 L1236.2,909.0 L1226.7,889.0 Z" fill="#fff" stroke="#000" stroke-width="2.8" stroke-linejoin="miter"/>
<path d="M1294.6,959.0 L1313.6,959.0 L1304.1,939.0 Z" fill="#fff" stroke="#000" stroke-width="2.8" stroke-linejoin="miter"/>
<path d="M1372.1,956.0 L1391.1,956.0 L1381.6,936.0 Z" fill="#fff" stroke="#000" stroke-width="2.8" stroke-linejoin="miter"/>
<path d="M1449.5,962.0 L1468.5,962.0 L1459.0,942.0 Z" fill="#fff" stroke="#000" stroke-width="2.8" stroke-linejoin="miter"/>
<path d="M1527.0,958.0 L1546.0,958.0 L1536.5,938.0 Z" fill="#fff" stroke="#000" stroke-width="2.8" stroke-linejoin="miter"/>
</g>
<g>
<path d="M295.3,938.9L299.1,938.8L343.1,896.3L343.1,892.6L339.2,892.7L295.3,935.1Z M359.4,876.7L363.1,876.7L408.0,832.2L408.0,828.5L404.3,828.5L359.4,873.0Z M424.4,812.2L428.1,812.2L473.0,768.0L473.0,764.2L469.3,764.2L424.4,808.5Z M489.4,748.2L493.1,748.2L493.3,748.0L516.5,724.6L536.4,703.3L536.4,699.6L532.7,699.6L512.8,720.8L489.4,744.5Z M550.7,683.3L554.5,683.2L567.4,668.9L578.4,657.0L588.1,646.9L596.8,638.5L596.8,634.7L593.1,634.7L590.2,637.5L581.3,646.4L572.8,655.3L550.7,679.6Z M624.4,611.5L628.2,611.4L644.8,598.8L673.1,578.3L673.1,574.6L669.4,574.6L669.2,574.7L640.0,595.9L624.4,607.8Z M689.5,563.5L693.3,563.4L714.8,546.9L738.1,528.4L738.1,524.7L734.4,524.7L710.9,543.4L689.5,559.8Z M754.5,512.1L758.3,512.1L783.0,491.4L803.1,473.9L803.1,470.2L799.4,470.2L778.3,488.6L754.5,508.4Z M819.4,455.6L823.1,455.6L823.5,455.3L834.7,444.6L847.2,432.5L867.7,411.5L867.7,407.8L863.9,407.9L854.2,418.0L842.4,429.8L819.4,451.9Z M882.2,391.5L885.9,391.4L911.1,361.0L917.3,353.9L924.0,346.5L924.0,342.8L920.3,342.8L918.6,344.7L907.2,357.5L882.2,387.8Z M939.5,326.5L943.2,326.5L943.7,326.0L955.8,312.4L981.9,281.5L981.9,277.8L978.2,277.9L951.7,309.1L939.5,322.8Z M996.3,261.5L1000.1,261.5L1010.5,250.0L1017.1,242.3L1038.1,216.6L1038.1,212.8L1034.4,212.8L1013.7,238.2L1006.6,246.4L996.3,257.8Z M1051.2,196.5L1055.0,196.4L1083.8,163.0L1089.7,156.6L1094.7,151.6L1094.7,147.9L1091.0,147.9L1086.9,151.9L1078.1,161.5L1051.2,192.8Z M1111.0,135.3L1114.7,135.3L1128.8,126.1L1136.7,121.4L1143.4,117.7L1150.2,114.2L1155.9,111.5L1161.6,109.1L1166.7,107.3L1166.7,103.6L1163.0,103.6L1160.9,104.3L1153.6,107.2L1145.4,111.0L1137.0,115.4L1127.9,120.7L1119.5,125.9L1111.0,131.6Z M1183.0,104.8L1188.1,105.9L1201.8,109.8L1206.3,111.3L1210.6,113.2L1213.2,114.6L1215.8,116.3L1219.5,119.4L1221.6,121.5L1223.5,123.9L1226.0,127.8L1229.7,127.8L1229.7,124.1L1228.3,121.7L1226.4,119.1L1223.0,115.4L1220.8,113.6L1218.5,111.9L1214.1,109.4L1210.8,108.0L1206.8,106.5L1191.8,102.3L1186.7,101.1L1183.0,101.1Z M1231.9,147.9L1233.4,155.0L1234.7,160.4L1242.0,184.8L1246.0,200.6L1246.1,200.8L1249.8,200.8L1249.8,197.0L1245.7,181.2L1238.5,156.7L1237.1,151.3L1235.7,144.3L1235.6,144.1L1231.9,144.1Z M1250.4,220.9L1254.4,242.3L1258.3,265.8L1262.0,265.8L1262.0,261.8L1258.1,238.7L1254.2,217.3L1254.1,217.1L1250.4,217.1Z M1261.2,286.0L1263.8,305.7L1266.7,330.6L1266.8,330.8L1270.5,330.8L1270.5,326.9L1267.5,302.0L1265.0,282.3L1264.9,282.1L1261.2,282.1Z M1269.1,351.0L1273.9,395.6L1273.9,395.8L1277.6,395.8L1277.6,391.9L1272.8,347.3L1272.8,347.1L1269.1,347.1Z M1275.8,416.0L1277.7,440.2L1278.9,460.5L1279.0,460.8L1282.7,460.8L1282.7,456.8L1281.4,436.5L1279.5,412.4L1279.5,412.1L1275.8,412.1Z M1279.9,481.4L1281.6,525.8L1285.3,525.8L1285.3,521.6L1283.6,477.1L1279.9,477.1Z M1282.2,546.5L1283.9,590.6L1284.0,590.8L1287.7,590.8L1287.7,586.9L1285.9,542.1L1282.2,542.1Z M1284.9,611.3L1287.2,655.4L1287.2,655.8L1290.9,655.8L1290.9,651.8L1288.6,607.1L1284.9,607.1Z M1288.4,676.2L1291.1,720.5L1291.2,720.8L1294.9,720.8L1294.9,716.9L1292.1,672.1L1288.4,672.1Z M1292.5,741.2L1295.7,785.6L1295.7,785.8L1299.4,785.8L1299.4,782.0L1296.2,737.1L1292.5,737.1Z M1297.2,806.1L1299.2,829.6L1301.2,850.8L1304.9,850.8L1304.9,846.8L1302.9,825.9L1300.9,802.1L1297.2,802.1Z M1303.5,871.0L1306.9,894.7L1308.8,905.7L1310.9,915.8L1314.6,915.8L1314.6,911.9L1312.6,902.1L1310.6,891.1L1307.2,867.1L1303.5,867.1Z M1315.9,935.9L1318.1,943.1L1319.3,946.3L1320.6,948.7L1322.2,951.1L1323.3,952.3L1325.3,954.0L1326.9,954.9L1329.8,956.0L1332.9,956.7L1336.2,956.9L1341.5,956.9L1344.6,956.6L1347.7,956.0L1355.5,953.6L1355.5,949.9L1351.8,949.9L1344.0,952.2L1340.9,952.9L1338.3,953.1L1333.6,952.3L1330.7,951.2L1329.1,950.3L1327.1,948.7L1326.0,947.4L1324.3,945.0L1323.1,942.6L1321.8,939.5L1319.6,932.1L1315.9,932.1Z M1371.8,949.0L1375.5,949.0L1383.9,948.3L1393.3,947.9L1420.4,947.9L1420.4,944.2L1389.6,944.2L1380.2,944.6L1371.8,945.3Z M1436.8,947.7L1454.7,947.8L1478.0,949.0L1485.5,949.1L1485.5,945.4L1458.4,944.1L1436.8,944.0Z M1501.8,948.5L1505.5,948.5L1515.6,947.0L1525.6,945.0L1538.3,941.9L1538.3,938.1L1534.6,938.1L1515.3,942.7L1508.8,943.9L1501.8,944.8Z" fill="#000"/>
<g stroke="#000" fill="none" clip-path="url(#pc)">
<line x1="297.2" y1="929.0" x2="297.2" y2="945.0" stroke-width="4.6"/><line x1="282.2" y1="929.0" x2="312.2" y2="929.0" stroke-width="3.6"/><line x1="282.2" y1="945.0" x2="312.2" y2="945.0" stroke-width="3.6"/>
<line x1="607.0" y1="616.5" x2="607.0" y2="634.5" stroke-width="4.6"/><line x1="592.0" y1="616.5" x2="622.0" y2="616.5" stroke-width="3.6"/><line x1="592.0" y1="634.5" x2="622.0" y2="634.5" stroke-width="3.6"/>
<line x1="916.8" y1="340.5" x2="916.8" y2="360.5" stroke-width="4.6"/><line x1="901.8" y1="340.5" x2="931.8" y2="340.5" stroke-width="3.6"/><line x1="901.8" y1="360.5" x2="931.8" y2="360.5" stroke-width="3.6"/>
<line x1="1226.7" y1="115.3" x2="1226.7" y2="132.3" stroke-width="4.6"/><line x1="1211.7" y1="115.3" x2="1241.7" y2="115.3" stroke-width="3.6"/><line x1="1211.7" y1="132.3" x2="1241.7" y2="132.3" stroke-width="3.6"/>
<line x1="1304.1" y1="841.2" x2="1304.1" y2="855.2" stroke-width="4.6"/><line x1="1289.1" y1="841.2" x2="1319.1" y2="841.2" stroke-width="3.6"/><line x1="1289.1" y1="855.2" x2="1319.1" y2="855.2" stroke-width="3.6"/>
<line x1="1381.6" y1="940.5" x2="1381.6" y2="952.5" stroke-width="4.6"/><line x1="1366.6" y1="940.5" x2="1396.6" y2="940.5" stroke-width="3.6"/><line x1="1366.6" y1="952.5" x2="1396.6" y2="952.5" stroke-width="3.6"/>
<line x1="1459.0" y1="935.0" x2="1459.0" y2="957.0" stroke-width="4.6"/><line x1="1444.0" y1="935.0" x2="1474.0" y2="935.0" stroke-width="3.6"/><line x1="1444.0" y1="957.0" x2="1474.0" y2="957.0" stroke-width="3.6"/>
<line x1="1536.5" y1="902.0" x2="1536.5" y2="978.0" stroke-width="4.6"/><line x1="1521.5" y1="902.0" x2="1551.5" y2="902.0" stroke-width="3.6"/><line x1="1521.5" y1="978.0" x2="1551.5" y2="978.0" stroke-width="3.6"/>
</g>
<rect x="281.5" y="926.0" width="28.0" height="24.0" fill="#000"/>
<rect x="592.5" y="612.5" width="29.0" height="24.5" fill="#000"/>
<rect x="1369.5" y="937.0" width="23.0" height="19.0" fill="#000"/>
<rect x="287.2" y="927.0" width="20" height="20" fill="#000"/>
<rect x="597.0" y="615.5" width="20" height="20" fill="#000"/>
<rect x="906.8" y="340.5" width="20" height="20" fill="#000"/>
<rect x="1216.7" y="113.8" width="20" height="20" fill="#000"/>
<rect x="1294.1" y="838.2" width="20" height="20" fill="#000"/>
<rect x="1371.6" y="936.5" width="20" height="20" fill="#000"/>
<rect x="1449.0" y="936.0" width="20" height="20" fill="#000"/>
<rect x="1526.5" y="930.0" width="20" height="20" fill="#000"/>
</g>
<text transform="translate(277.0,97.6) scale(1,1.03)" font-size="84px" text-anchor="end">0.4</text>
<text transform="translate(277.0,319.5) scale(1,1.03)" font-size="84px" text-anchor="end">0.3</text>
<text transform="translate(277.0,540.4) scale(1,1.03)" font-size="84px" text-anchor="end">0.2</text>
<text transform="translate(280.0,761.5) scale(1,1.03)" font-size="84px" text-anchor="end">0.1</text>
<text transform="translate(246.0,966.5) scale(1,1.03)" font-size="84px" text-anchor="end">0</text>
<text transform="translate(303.2,1065.7) scale(1,1.03)" font-size="84px" text-anchor="middle">0</text>
<text transform="translate(610.0,1065.7) scale(1,1.03)" font-size="84px" text-anchor="middle">0.4</text>
<text transform="translate(921.8,1065.7) scale(1,1.03)" font-size="84px" text-anchor="middle">0.8</text>
<text transform="translate(1231.2,1064.7) scale(1,1.03)" font-size="84px" text-anchor="middle">1.2</text>
<text transform="translate(1538.2,1067.2) scale(1,1.03)" font-size="84px" text-anchor="middle">1.6</text>
<text transform="translate(712.0,1190.8) scale(1,1.02)" font-size="117.3px" text-anchor="start">PPi (mM)</text>
<text transform="translate(131.0,488.7) rotate(-90) scale(1,1.04)" font-size="117px" text-anchor="middle">OD 620</text>
<g fill="#000">
<rect x="1563.9" y="54.9" width="276.29999999999995" height="11" rx="1.5"/>
<rect x="1563.9" y="128.7" width="7.6" height="11.0" rx="2.6"/><rect x="1583.0" y="128.7" width="7.6" height="11.0" rx="2.6"/><rect x="1602.1" y="128.7" width="7.6" height="11.0" rx="2.6"/><rect x="1621.2" y="128.7" width="7.6" height="11.0" rx="2.6"/><rect x="1640.3" y="128.7" width="7.6" height="11.0" rx="2.6"/><rect x="1659.4" y="128.7" width="7.6" height="11.0" rx="2.6"/><rect x="1678.5" y="128.7" width="7.6" height="11.0" rx="2.6"/><rect x="1697.6" y="128.7" width="7.6" height="11.0" rx="2.6"/><rect x="1716.7" y="128.7" width="7.6" height="11.0" rx="2.6"/><rect x="1735.8" y="128.7" width="7.6" height="11.0" rx="2.6"/><rect x="1754.9" y="128.7" width="7.6" height="11.0" rx="2.6"/><rect x="1774.0" y="128.7" width="7.6" height="11.0" rx="2.6"/><rect x="1793.1" y="128.7" width="7.6" height="11.0" rx="2.6"/><rect x="1812.2" y="128.7" width="7.6" height="11.0" rx="2.6"/><rect x="1831.3" y="128.7" width="7.6" height="11.0" rx="2.6"/>
<rect x="1563.9" y="202.7" width="38.5" height="10.2" rx="2.5"/><rect x="1615.2" y="202.7" width="38.5" height="10.2" rx="2.5"/><rect x="1666.5" y="202.7" width="38.5" height="10.2" rx="2.5"/><rect x="1717.8" y="202.7" width="38.5" height="10.2" rx="2.5"/><rect x="1769.1" y="202.7" width="38.5" height="10.2" rx="2.5"/><rect x="1820.4" y="202.7" width="19.8" height="10.2" rx="2.5"/>
<rect x="1563.9" y="275.8" width="50.0" height="10.0" rx="2.5"/><ellipse cx="1629.7" cy="280.8" rx="4.0" ry="4.6"/><ellipse cx="1648.5" cy="280.8" rx="4.0" ry="4.6"/><rect x="1663.6" y="275.8" width="50.0" height="10.0" rx="2.5"/><ellipse cx="1729.4" cy="280.8" rx="4.0" ry="4.6"/><ellipse cx="1748.2" cy="280.8" rx="4.0" ry="4.6"/><rect x="1763.3" y="275.8" width="50.0" height="10.0" rx="2.5"/><ellipse cx="1829.1" cy="280.8" rx="4.0" ry="4.6"/>
<rect x="1563.9" y="348.0" width="71.5" height="10.0" rx="2.5"/><rect x="1658.2" y="348.0" width="71.5" height="10.0" rx="2.5"/><rect x="1752.5" y="348.0" width="71.5" height="10.0" rx="2.5"/>
</g>
<ellipse cx="1702" cy="60.3" rx="15.3" ry="21.5" fill="#000"/>
<ellipse cx="1702" cy="133.5" rx="14" ry="20.7" fill="#fff" stroke="#000" stroke-width="2.7"/>
<path d="M1684.4,192.4 L1719.8,192.4 L1702.1,233 Z" fill="#000"/>
<path d="M1686.6,291 L1717.6,291 L1702.1,256.8 Z" fill="#fff" stroke="#000" stroke-width="2.3"/>
<rect x="1687" y="334" width="30" height="38.5" fill="#000"/>
<text transform="translate(1867.0,95.8) scale(1,1.03)" font-size="75.7px" text-anchor="start">WT</text>
<text transform="translate(1865.2,169.3) scale(1,1.03)" font-size="75.7px" text-anchor="start">K30R</text>
<text transform="translate(1865.2,243.1) scale(1,1.03)" font-size="75.7px" text-anchor="start">K143R</text>
<text transform="translate(1865.2,312.3) scale(1,1.03)" font-size="75.7px" text-anchor="start">P147G</text>
<text transform="translate(1865.2,382.4) scale(1,1.03)" font-size="75.7px" text-anchor="start">K149R</text>
</svg></body></html>
